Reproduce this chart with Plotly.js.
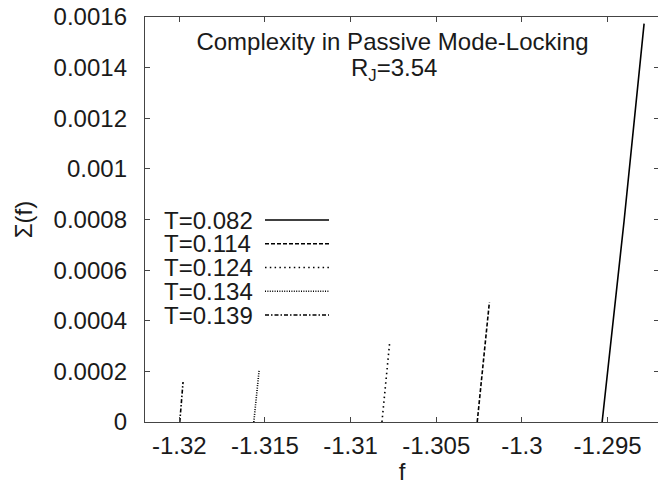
<!DOCTYPE html>
<html>
<head>
<meta charset="utf-8">
<script src="https://cdn.plot.ly/plotly-3.0.1.min.js"></script>
<style>
html,body{margin:0;padding:0;overflow:hidden;background:#fff;}
#chart{width:659px;height:485px;}
</style>
</head>
<body>
<div id="chart"></div>
<script>
// ---- data ----
const seriesNames = ["T=0.082", "T=0.114", "T=0.124", "T=0.134", "T=0.139"];
const f_T0082 = [-1.29532, -1.29404, -1.29287];
const s_T0082 = [0, 0.000793, 0.001574];
const f_T0114 = [-1.30261, -1.30190];
const s_T0114 = [0, 0.000473];
const f_T0124 = [-1.30817, -1.30771];
const s_T0124 = [0, 0.000321];
const f_T0134 = [-1.31565, -1.31534];
const s_T0134 = [0, 0.000204];
const f_T0139 = [-1.31997, -1.31978];
const s_T0139 = [0, 0.000158];
const xTickVals = [-1.32, -1.315, -1.31, -1.305, -1.3, -1.295];
const xTickText = ["-1.32", "-1.315", "-1.31", "-1.305", "-1.3", "-1.295"];
const yTickVals = [0, 0.0002, 0.0004, 0.0006, 0.0008, 0.001, 0.0012, 0.0014, 0.0016];
const yTickText = ["0", "0.0002", "0.0004", "0.0006", "0.0008", "0.001", "0.0012", "0.0014", "0.0016"];
const titleLine1 = "Complexity in Passive Mode-Locking";
const titleLine2 = "R<sub>J</sub>=3.54";

// ---- styling ----
const FONT = "Liberation Sans, Arial, Helvetica, sans-serif";
const TXT = "#1a1a1a";
const dashes = ["solid", "4px,2px", "1.5px,3.3px", "1px,1.4px", "4px,2px,1.5px,2px"];
const xs = [f_T0082, f_T0114, f_T0124, f_T0134, f_T0139];
const ys = [s_T0082, s_T0114, s_T0124, s_T0134, s_T0139];

const W = 659, H = 485;
const M = {l:145, r:0, t:17, b:63};
const PW = W - M.l - M.r, PH = H - M.t - M.b;
const px2x = px => (px - M.l) / PW;
const py2y = py => (H - M.b - py) / PH;

const traces = seriesNames.map((n, i) => ({
  x: xs[i], y: ys[i], name: n, type: "scatter", mode: "lines",
  line: {color: "#000", width: 1.6, dash: dashes[i]},
  showlegend: false, hoverinfo: "skip"
}));

// gnuplot-style key: text on the left, line sample on the right
const annotations = [];
const shapes = [];
seriesNames.forEach((n, i) => {
  const yy = py2y(220 + i * 23.75);
  annotations.push({
    text: n, xref: "paper", yref: "paper", x: px2x(162), y: yy,
    xanchor: "left", yanchor: "middle", showarrow: false,
    font: {family: FONT, size: 24, color: TXT}
  });
  shapes.push({
    type: "line", xref: "paper", yref: "paper",
    x0: px2x(265), x1: px2x(329), y0: yy, y1: yy,
    line: {color: "#000", width: 1.6, dash: dashes[i]}
  });
});
annotations.push({
  text: titleLine2, xref: "paper", yref: "paper", x: px2x(394), y: py2y(69),
  xanchor: "center", yanchor: "middle", showarrow: false,
  font: {family: FONT, size: 24, color: TXT}
});

const axisCommon = {
  showgrid: false, zeroline: false, showline: true, linecolor: "#444", linewidth: 1.2,
  mirror: "allticks", ticks: "inside", ticklen: 5, tickwidth: 1, tickcolor: "#444",
  tickfont: {family: FONT, size: 24, color: TXT}
};

const layout = {
  width: W, height: H, margin: M,
  paper_bgcolor: "#fff", plot_bgcolor: "#fff",
  font: {family: FONT, size: 24, color: TXT},
  title: {
    text: titleLine1, font: {family: FONT, size: 24, color: TXT},
    xref: "container", yref: "container", x: 392.5 / W, y: 1 - 42 / H,
    xanchor: "center", yanchor: "middle"
  },
  xaxis: Object.assign({}, axisCommon, {
    range: [-1.322, -1.292], tickvals: xTickVals, ticktext: xTickText,
    ticklabelstandoff: 2,
    title: {text: "f", font: {family: FONT, size: 24, color: TXT}, standoff: 12}
  }),
  yaxis: Object.assign({}, axisCommon, {
    range: [0, 0.0016], tickvals: yTickVals, ticktext: yTickText,
    ticklabelstandoff: 12,
    title: {text: "Σ(f)", font: {family: FONT, size: 24, color: TXT}, standoff: 14}
  }),
  annotations: annotations,
  shapes: shapes
};

Plotly.newPlot("chart", traces, layout, {staticPlot: true, displayModeBar: false});
</script>
</body>
</html>
